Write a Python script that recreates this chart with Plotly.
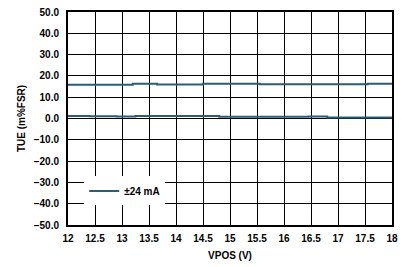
import plotly.graph_objects as go

# Data
vpos_a = [12.0, 13.2, 13.65, 14.5, 15.55, 17.55, 18.0]
tue_a = [15.9, 16.3, 16.0, 16.3, 16.1, 16.3, 16.3]
vpos_b = [12.0, 12.4, 12.9, 13.25, 14.8, 16.45, 16.8, 18.0]
tue_b = [1.2, 1.1, 0.9, 1.2, 0.8, 0.9, 0.5, 0.5]
series_name = "±24 mA"
x_ticks = [12, 12.5, 13, 13.5, 14, 14.5, 15, 15.5, 16, 16.5, 17, 17.5, 18]
x_tick_labels = ["12", "12.5", "13", "13.5", "14", "14.5", "15", "15.5", "16", "16.5", "17", "17.5", "18"]
y_ticks = [-50, -40, -30, -20, -10, 0, 10, 20, 30, 40, 50]

color = "#2b5d75"
font_family = "Liberation Sans, Arial, sans-serif"

fig = go.Figure()
fig.add_trace(go.Scatter(x=vpos_a, y=tue_a, mode="lines", line=dict(color=color, width=2, shape="hv"),
                         name=series_name, showlegend=True))
fig.add_trace(go.Scatter(x=vpos_b, y=tue_b, mode="lines", line=dict(color=color, width=2, shape="hv"),
                         name=series_name, showlegend=False))

axis_common = dict(showgrid=True, gridcolor="black", gridwidth=1, zeroline=False,
                   showline=True, linecolor="black", linewidth=2, mirror=True,
                   ticks="", tickfont=dict(family=font_family, size=10, color="black", weight="bold"))

fig.update_layout(
    width=406, height=267,
    margin=dict(l=68, r=14, t=6, b=42),
    paper_bgcolor="white", plot_bgcolor="white",
    font=dict(family=font_family, color="black"),
    showlegend=True,
    legend=dict(x=0.05, y=0.228, xanchor="left", yanchor="top", bgcolor="white",
                borderwidth=0, font=dict(family=font_family, size=10, color="black", weight="bold"),
                tracegroupgap=0, itemwidth=30),
    xaxis=dict(range=[12, 18], tickvals=x_ticks, ticktext=x_tick_labels, ticklabelstandoff=3,
               title=dict(text="VPOS (V)", font=dict(family=font_family, size=10, weight="bold"), standoff=9),
               **axis_common),
    yaxis=dict(range=[-50, 50], tickvals=y_ticks, tickformat=".1f", ticklabelstandoff=5,
               title=dict(text="TUE (m%FSR)", font=dict(family=font_family, size=10, weight="bold"), standoff=6),
               **axis_common),
)

fig.write_html("out.html")
